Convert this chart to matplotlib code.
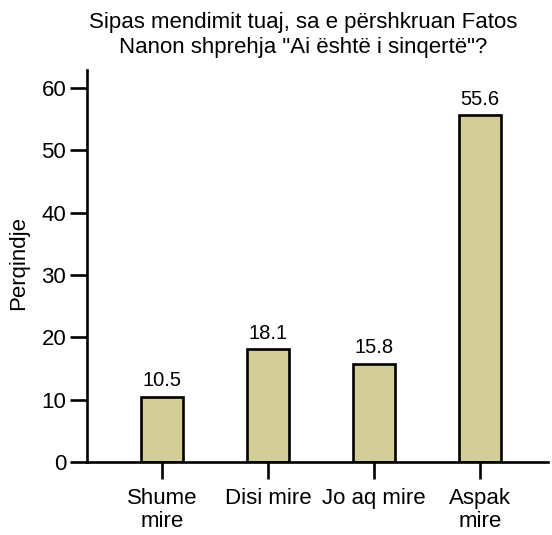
import matplotlib
matplotlib.use("Agg")
import matplotlib.pyplot as plt

categories = ["Shume\nmire", "Disi mire", "Jo aq mire", "Aspak\nmire"]
values = [10.5, 18.1, 15.8, 55.6]
yticks = [0, 10, 20, 30, 40, 50, 60]
title = 'Sipas mendimit tuaj, sa e përshkruan Fatos\nNanon shprehja "Ai është i sinqertë"?'

plt.rcParams['font.family'] = ['Liberation Sans', 'DejaVu Sans']

fig = plt.figure(figsize=(5.52, 5.35), dpi=100)
ax = fig.add_axes([87/552, 73/535, 461/552, 392/535])

x = list(range(len(categories)))
ax.bar(x, values, width=0.4, color='#d3cd98', edgecolor='black', linewidth=1.9)
for xi, v in zip(x, values):
    ax.text(xi, v + 1.0, f"{v}", ha='center', va='bottom', fontsize=14.5,
            family=['Liberation Sans Narrow', 'Liberation Sans'])

ax.set_xlim(-0.71, 3.64)
ax.set_ylim(0, 62.9)
ax.set_yticks(yticks)
ax.set_xticks(x)
ax.set_xticklabels(categories, fontsize=16, linespacing=1.12)
ax.tick_params(axis='both', length=12, width=1.9, labelsize=16, direction='out')
ax.tick_params(axis='x', pad=7)
ax.tick_params(axis='y', pad=3)
for s in ['top', 'right']:
    ax.spines[s].set_visible(False)
for s in ['left', 'bottom']:
    ax.spines[s].set_linewidth(1.9)
ax.set_ylabel("Perqindje", fontsize=16)
ax.yaxis.set_label_coords(-0.126, 0.508)
fig.text(303/552, 1 - 12/535, title, ha='center', va='top', fontsize=16,
         linespacing=1.25, multialignment='center')

fig.savefig("out.png", dpi=100)
